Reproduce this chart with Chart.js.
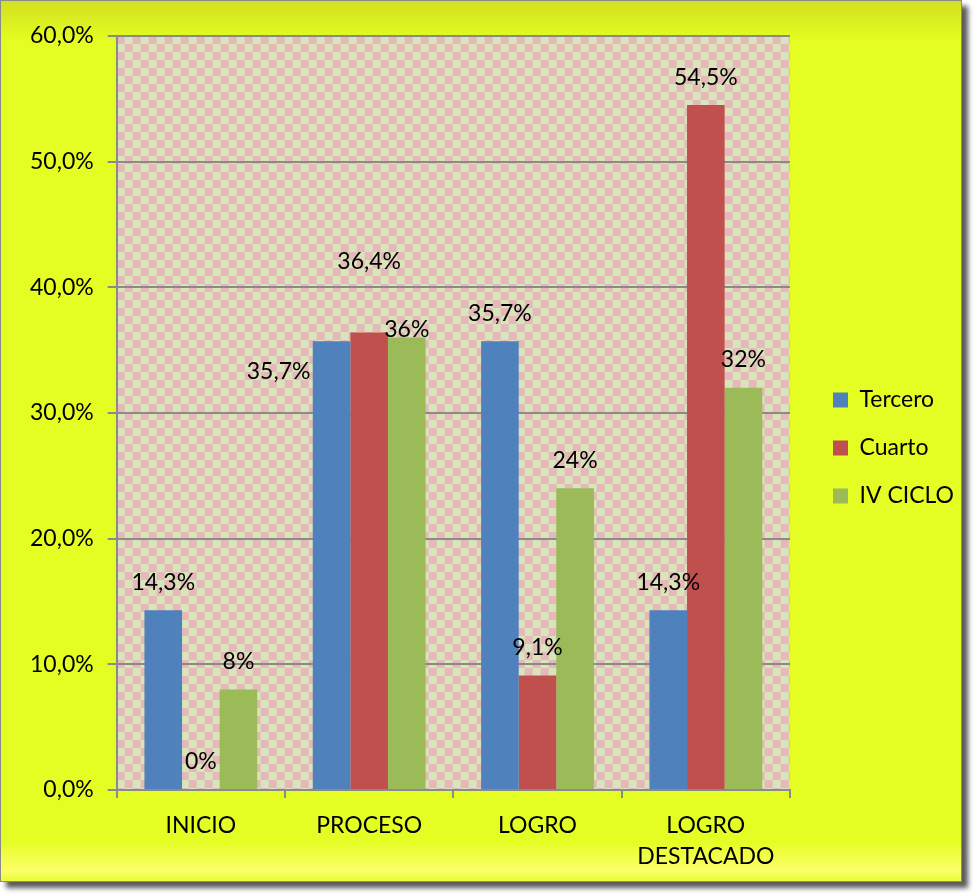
<!DOCTYPE html>
<html>
<head>
<meta charset="utf-8">
<script src="https://cdn.jsdelivr.net/npm/chart.js@4.4.0/dist/chart.umd.min.js"></script>
<style>
  html, body { margin: 0; padding: 0; background: #ffffff; }
  #frame {
    position: absolute; left: 0; top: 0;
    width: 962px; height: 882px;
    box-sizing: border-box;
    border: 1px solid #8a8a8a;
    background: linear-gradient(to bottom, #d2e020 0px, #e4fd22 40px, #e4fd22 840px, #fdff6a 870px, #e4fd22 882px);
    box-shadow: 6px 6px 5px #5a5a5a;
  }
  #wrap { position: absolute; left: 0; top: 0; width: 962px; height: 884px; }
</style>
</head>
<body>
<div id="frame"></div>
<div id="wrap"><canvas id="chart"></canvas></div>
<script>
var categories = [['INICIO'], ['PROCESO'], ['LOGRO'], ['LOGRO', 'DESTACADO']];
var seriesNames = ['Tercero', 'Cuarto', 'IV CICLO'];
var tercero = [14.3, 35.7, 35.7, 14.3];
var cuarto = [0, 36.4, 9.1, 54.5];
var ivCiclo = [8, 36, 24, 32];
var tercLabels = ['14,3%', '35,7%', '35,7%', '14,3%'];
var cuarLabels = ['0%', '36,4%', '9,1%', '54,5%'];
var ivLabels = ['8%', '36%', '24%', '32%'];
var yTicks = [0, 10, 20, 30, 40, 50, 60];

var colors = ['#4f81bd', '#c0504d', '#9bbb59'];
var FONT = 'Lato, "Open Sans", sans-serif';

// label nudges (Excel labels were dragged by hand on a few bars)
var labelShift = [
  [[0, 0], [-53, 58], [0, 0], [0, 0]],
  [[0, 0], [0, -43], [0, 0], [0, 0]],
  [[0, 0], [0, 20], [0, 0], [0, 0]]
];

function makeChecker() {
  var c = document.createElement('canvas');
  c.width = 16; c.height = 16;
  var g = c.getContext('2d');
  g.fillStyle = '#d7e4bc';
  g.fillRect(0, 0, 16, 16);
  g.fillStyle = '#e6b8b7';
  g.fillRect(0, 0, 8, 8);
  g.fillRect(8, 8, 8, 8);
  return c;
}

var plotBg = {
  id: 'plotBg',
  afterLayout: function (chart) {
    // push the legend a bit away from the plot
    var lg = chart.legend;
    if (lg) { lg.left += 18; lg.right += 18; lg.top -= 12; lg.bottom -= 12; }
  },
  beforeDraw: function (chart) {
    var a = chart.chartArea, ctx = chart.ctx;
    ctx.save();
    ctx.translate(a.left, a.top);
    ctx.fillStyle = ctx.createPattern(makeChecker(), 'repeat');
    ctx.fillRect(0, 0, a.right - a.left, a.bottom - a.top);
    ctx.restore();
  }
};

var valueLabels = {
  id: 'valueLabels',
  afterDatasetsDraw: function (chart) {
    var ctx = chart.ctx;
    ctx.save();
    ctx.font = '23px ' + FONT;
    ctx.fillStyle = '#000';
    ctx.textAlign = 'center';
    ctx.textBaseline = 'middle';
    chart.data.datasets.forEach(function (ds, di) {
      chart.getDatasetMeta(di).data.forEach(function (bar, i) {
        var s = labelShift[di][i];
        ctx.fillText(ds.labelsText[i], bar.x + s[0], bar.y - 28 + s[1]);
      });
    });
    ctx.restore();
  }
};

new Chart(document.getElementById('chart'), {
  type: 'bar',
  data: {
    labels: categories,
    datasets: [
      { label: seriesNames[0], data: tercero, labelsText: tercLabels, backgroundColor: colors[0] },
      { label: seriesNames[1], data: cuarto, labelsText: cuarLabels, backgroundColor: colors[1] },
      { label: seriesNames[2], data: ivCiclo, labelsText: ivLabels, backgroundColor: colors[2] }
    ]
  },
  options: {
    responsive: true,
    maintainAspectRatio: false,
    animation: false,
    layout: { padding: { left: 16, top: 36, right: 16, bottom: 0 } },
    datasets: { bar: { categoryPercentage: 0.67, barPercentage: 1.0 } },
    scales: {
      x: {
        grid: { drawOnChartArea: false, drawTicks: true, tickLength: 8, color: '#8a8a8a', lineWidth: 2 },
        border: { color: '#8a8a8a', width: 2 },
        ticks: { color: '#000', font: { family: FONT, size: 23, lineHeight: 1.35 }, padding: 12, maxRotation: 0 }
      },
      y: {
        min: 0, max: 60,
        afterBuildTicks: function (axis) { axis.ticks = yTicks.map(function (v) { return { value: v }; }); },
        grid: { color: '#8a8a8a', lineWidth: 2, tickLength: 9 },
        border: { color: '#8a8a8a', width: 2 },
        ticks: {
          color: '#000', font: { family: FONT, size: 23 }, padding: 14,
          callback: function (v) { return v.toFixed(1).replace('.', ',') + '%'; }
        }
      }
    },
    plugins: {
      tooltip: { enabled: false },
      legend: {
        position: 'right',
        labels: { color: '#000', font: { family: FONT, size: 23 }, boxWidth: 15, boxHeight: 15, padding: 25 }
      }
    }
  },
  plugins: [plotBg, valueLabels]
});
</script>
</body>
</html>
